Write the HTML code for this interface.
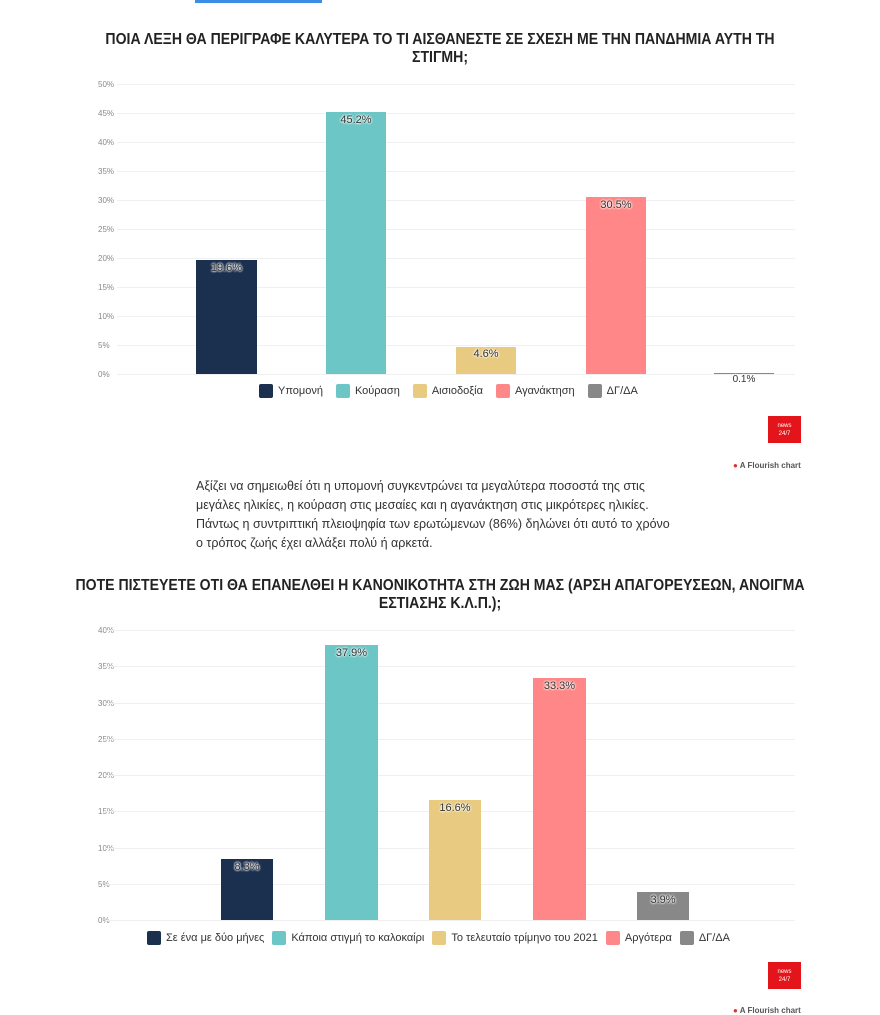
<!DOCTYPE html>
<html><head><meta charset="utf-8"><style>
body{margin:0;width:880px;height:1011px;background:#fff;position:relative;overflow:hidden;font-family:"Liberation Sans","DejaVu Sans",sans-serif}
.a{position:absolute}
.t{font-weight:bold;font-size:16px;color:#222;text-align:center;left:0;width:880px;line-height:18px;white-space:nowrap;transform:scaleX(0.88);transform-origin:440px 0}
.yl{font-size:8px;color:#888;width:30px;text-align:left}
.g{height:1px;background:#f0f0f0}
.b{position:absolute}
.v{position:absolute;font-size:11px;color:#333;text-align:center;text-shadow:0 0 2px #fff,0 0 2px #fff,0 0 2px #fff}
.lg{font-size:11px;color:#333;white-space:nowrap}
.sw{display:inline-block;width:14px;height:14px;border-radius:2px;vertical-align:middle;margin-right:5px}
.lg span.i{margin-right:13px;display:inline-block}
.logo{background:#e3151b;color:#fff;font-size:6px;text-align:center;line-height:8px;padding-top:6px;box-sizing:border-box}
.p{font-size:12.5px;color:#333;line-height:19px;left:196px;white-space:nowrap}
</style></head><body>
<div class="a" style="left:195px;top:0;width:127px;height:3px;background:#3a8ee6"></div>
<div class="a t" style="top:31px">ΠΟΙΑ ΛΕΞΗ ΘΑ ΠΕΡΙΓΡΑΦΕ ΚΑΛΥΤΕΡΑ ΤΟ ΤΙ ΑΙΣΘΑΝΕΣΤΕ ΣΕ ΣΧΕΣΗ ΜΕ ΤΗΝ ΠΑΝΔΗΜΙΑ ΑΥΤΗ ΤΗ<br>ΣΤΙΓΜΗ;</div>
<div class="a yl" style="left:98px;top:80px">50%</div><div class="a g" style="left:117px;top:84px;width:678px"></div>
<div class="a yl" style="left:98px;top:109px">45%</div><div class="a g" style="left:117px;top:113px;width:678px"></div>
<div class="a yl" style="left:98px;top:138px">40%</div><div class="a g" style="left:117px;top:142px;width:678px"></div>
<div class="a yl" style="left:98px;top:167px">35%</div><div class="a g" style="left:117px;top:171px;width:678px"></div>
<div class="a yl" style="left:98px;top:196px">30%</div><div class="a g" style="left:117px;top:200px;width:678px"></div>
<div class="a yl" style="left:98px;top:225px">25%</div><div class="a g" style="left:117px;top:229px;width:678px"></div>
<div class="a yl" style="left:98px;top:254px">20%</div><div class="a g" style="left:117px;top:258px;width:678px"></div>
<div class="a yl" style="left:98px;top:283px">15%</div><div class="a g" style="left:117px;top:287px;width:678px"></div>
<div class="a yl" style="left:98px;top:312px">10%</div><div class="a g" style="left:117px;top:316px;width:678px"></div>
<div class="a yl" style="left:98px;top:341px">5%</div><div class="a g" style="left:117px;top:345px;width:678px"></div>
<div class="a yl" style="left:98px;top:370px">0%</div><div class="a g" style="left:117px;top:374px;width:678px"></div>
<div class="b" style="left:196px;top:260px;width:61px;height:114px;background:#1b2f4f"></div><div class="v" style="left:196px;top:262px;width:61px">19.6%</div>
<div class="b" style="left:326px;top:112px;width:60px;height:262px;background:#6cc6c5"></div><div class="v" style="left:326px;top:114px;width:60px">45.2%</div>
<div class="b" style="left:456px;top:347px;width:60px;height:27px;background:#e8cb80"></div><div class="v" style="left:456px;top:348px;width:60px">4.6%</div>
<div class="b" style="left:586px;top:197px;width:60px;height:177px;background:#ff8787"></div><div class="v" style="left:586px;top:199px;width:60px">30.5%</div>
<div class="b" style="left:714px;top:373px;width:60px;height:1px;background:#888"></div><div class="v" style="left:714px;top:374px;width:60px;font-size:10px">0.1%</div>
<div class="a lg" style="left:259px;top:384px">
<span class="i"><span class="sw" style="background:#1b2f4f"></span>Υπομονή</span><span class="i"><span class="sw" style="background:#6cc6c5"></span>Κούραση</span><span class="i"><span class="sw" style="background:#e8cb80"></span>Αισιοδοξία</span><span class="i"><span class="sw" style="background:#ff8787"></span>Αγανάκτηση</span><span class="i"><span class="sw" style="background:#888"></span>ΔΓ/ΔΑ</span></div>
<div class="a logo" style="left:768px;top:416px;width:33px;height:27px">news<br>24/7</div>
<div class="a" style="left:733px;top:461px;font-size:8px;color:#555;font-weight:bold"><span style="color:#d33">●</span> A Flourish chart</div>
<div class="a p" style="top:477px">Αξίζει να σημειωθεί ότι η υπομονή συγκεντρώνει τα μεγαλύτερα ποσοστά της στις<br>μεγάλες ηλικίες, η κούραση στις μεσαίες και η αγανάκτηση στις μικρότερες ηλικίες.<br>Πάντως η συντριπτική πλειοψηφία των ερωτώμενων (86%) δηλώνει ότι αυτό το χρόνο<br>ο τρόπος ζωής έχει αλλάξει πολύ ή αρκετά.</div>
<div class="a t" style="top:577px">ΠΟΤΕ ΠΙΣΤΕΥΕΤΕ ΟΤΙ ΘΑ ΕΠΑΝΕΛΘΕΙ Η ΚΑΝΟΝΙΚΟΤΗΤΑ ΣΤΗ ΖΩΗ ΜΑΣ (ΑΡΣΗ ΑΠΑΓΟΡΕΥΣΕΩΝ, ΑΝΟΙΓΜΑ<br>ΕΣΤΙΑΣΗΣ Κ.Λ.Π.);</div>
<div class="a yl" style="left:98px;top:626px">40%</div><div class="a g" style="left:105px;top:630px;width:690px"></div>
<div class="a yl" style="left:98px;top:662px">35%</div><div class="a g" style="left:105px;top:666px;width:690px"></div>
<div class="a yl" style="left:98px;top:699px">30%</div><div class="a g" style="left:105px;top:703px;width:690px"></div>
<div class="a yl" style="left:98px;top:735px">25%</div><div class="a g" style="left:105px;top:739px;width:690px"></div>
<div class="a yl" style="left:98px;top:771px">20%</div><div class="a g" style="left:105px;top:775px;width:690px"></div>
<div class="a yl" style="left:98px;top:807px">15%</div><div class="a g" style="left:105px;top:811px;width:690px"></div>
<div class="a yl" style="left:98px;top:844px">10%</div><div class="a g" style="left:105px;top:848px;width:690px"></div>
<div class="a yl" style="left:98px;top:880px">5%</div><div class="a g" style="left:105px;top:884px;width:690px"></div>
<div class="a yl" style="left:98px;top:916px">0%</div><div class="a g" style="left:105px;top:920px;width:690px"></div>
<div class="b" style="left:221px;top:859px;width:52px;height:61px;background:#1b2f4f"></div><div class="v" style="left:221px;top:861px;width:52px">8.3%</div>
<div class="b" style="left:325px;top:645px;width:53px;height:275px;background:#6cc6c5"></div><div class="v" style="left:325px;top:647px;width:53px">37.9%</div>
<div class="b" style="left:429px;top:800px;width:52px;height:120px;background:#e8cb80"></div><div class="v" style="left:429px;top:802px;width:52px">16.6%</div>
<div class="b" style="left:533px;top:678px;width:53px;height:242px;background:#ff8787"></div><div class="v" style="left:533px;top:680px;width:53px">33.3%</div>
<div class="b" style="left:637px;top:892px;width:52px;height:28px;background:#888"></div><div class="v" style="left:637px;top:894px;width:52px">3.9%</div>
<div class="a lg" style="left:147px;top:931px">
<span class="i" style="margin-right:8px"><span class="sw" style="background:#1b2f4f"></span>Σε ένα με δύο μήνες</span><span class="i" style="margin-right:8px"><span class="sw" style="background:#6cc6c5"></span>Κάποια στιγμή το καλοκαίρι</span><span class="i" style="margin-right:8px"><span class="sw" style="background:#e8cb80"></span>Το τελευταίο τρίμηνο του 2021</span><span class="i" style="margin-right:8px"><span class="sw" style="background:#ff8787"></span>Αργότερα</span><span class="i"><span class="sw" style="background:#888"></span>ΔΓ/ΔΑ</span></div>
<div class="a logo" style="left:768px;top:962px;width:33px;height:27px">news<br>24/7</div>
<div class="a" style="left:733px;top:1006px;font-size:8px;color:#555;font-weight:bold"><span style="color:#d33">●</span> A Flourish chart</div>
</body></html>
